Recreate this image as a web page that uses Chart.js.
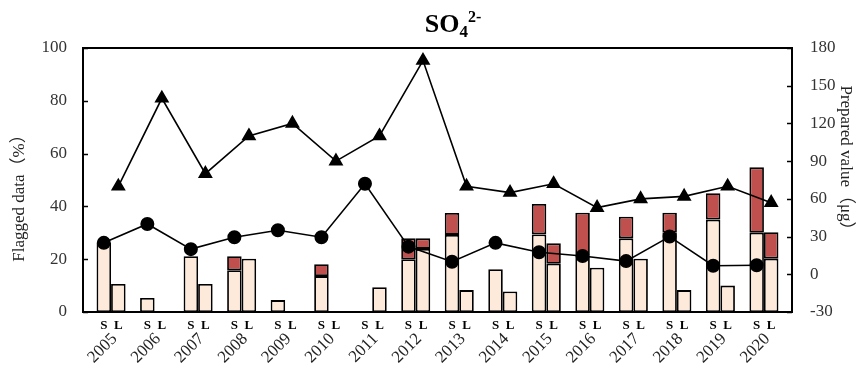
<!DOCTYPE html>
<html>
<head>
<meta charset="utf-8">
<script src="https://cdn.jsdelivr.net/npm/chart.js@4/dist/chart.umd.min.js"></script>
<style>
  html, body { margin: 0; padding: 0; background: #ffffff; }
  #wrap { width: 864px; height: 376px; }
</style>
</head>
<body>
<div id="wrap"><canvas id="c" width="864" height="376"></canvas></div>
<script>
// Sampling years
const years = ['2005','2006','2007','2008','2009','2010','2011','2012',
               '2013','2014','2015','2016','2017','2018','2019','2020'];
const seriesLabels = ['S', 'L'];

// Flagged data (%), split into unflagged base and flagged part
const sBase = [26.2, 5.3, 21.1, 15.8, 4.5, 13.6, 0, 20.0, 29.2, 16.2, 29.4, 21.5, 27.9, 30.0, 35.0, 30.0];
const sFlag = [0, 0, 0, 5.3, 0, 4.5, 0, 7.9, 8.3, 0, 11.5, 16.1, 8.2, 7.6, 10.0, 24.8];
const lBase = [10.6, 0, 10.6, 20.2, 0, 0, 9.4, 23.9, 8.3, 7.8, 18.3, 16.8, 20.2, 8.3, 10.0, 20.2];
const lFlag = [0, 0, 0, 0, 0, 0, 0, 4.0, 0, 0, 7.7, 0, 0, 0, 0, 10.0];

// Prepared value (µg)
const sPrepared = [25, 40, 20, 29.5, 35, 29.5, 72, 22, 10, 25, 17.5, 14.5, 10.5, 30, 6.8, 7.2];
const lPrepared = [70, 140, 80, 110, 120, 90, 110, 170, 70, 65, 72, 53, 60, 62, 70, 57];

// Axis ticks
const pctTicks = [0, 20, 40, 60, 80, 100];
const ugTicks = [-30, 0, 30, 60, 90, 120, 150, 180];

const SERIF = '"Liberation Serif", "Times New Roman", serif';
const LIGHT = 'rgb(253, 234, 218)';
const FLAG = 'rgb(192, 80, 77)';

// Fraction of each year slot taken by the S/L pair; S and L sit a quarter of it off centre
const groupFrac = 0.667;
const pairOffset = groupFrac / 4;
const xPad = 0.645;
// Rotated year labels are anchored slightly right of the pair centre
const yearShift = 0.08;

const xy = (vals, shift) => vals.map((v, i) => ({ x: i + shift, y: v }));

const barStyle = {
  type: 'bar',
  yAxisID: 'y',
  borderColor: '#000',
  // empty segments get no outline
  borderWidth: c => (c.raw && c.raw.y > 0 ? 1.8 : 0),
  borderSkipped: false,
  barPercentage: 1,
  categoryPercentage: groupFrac,
  order: 2
};

const lineStyle = {
  type: 'line',
  yAxisID: 'y2',
  borderColor: '#000',
  backgroundColor: '#000',
  borderWidth: 1.6,
  pointBorderColor: '#000',
  pointBackgroundColor: '#000',
  tension: 0,
  order: 0
};

// Title, axis titles, frame and inward tick marks
const decorations = {
  id: 'decorations',
  afterDraw(chart) {
    const ctx = chart.ctx;
    const a = chart.chartArea;
    ctx.save();

    // frame
    ctx.strokeStyle = '#000';
    ctx.lineWidth = 2;
    ctx.strokeRect(a.left, a.top, a.right - a.left, a.bottom - a.top);

    // inward ticks on both value axes
    ctx.lineWidth = 1.5;
    const yS = chart.scales.y, y2S = chart.scales.y2;
    yS.ticks.forEach(t => {
      const p = Math.round(yS.getPixelForValue(t.value)) + 0.5;
      ctx.beginPath(); ctx.moveTo(a.left, p); ctx.lineTo(a.left + 5, p); ctx.stroke();
    });
    y2S.ticks.forEach(t => {
      const p = Math.round(y2S.getPixelForValue(t.value)) + 0.5;
      ctx.beginPath(); ctx.moveTo(a.right, p); ctx.lineTo(a.right - 5, p); ctx.stroke();
    });

    // chart title: SO4 2-
    ctx.fillStyle = '#000';
    ctx.textBaseline = 'alphabetic';
    ctx.textAlign = 'left';
    const big = 'bold 26px ' + SERIF, sub = 'bold 17px ' + SERIF, sup = 'bold 16px ' + SERIF;
    ctx.font = big; const w1 = ctx.measureText('SO').width;
    ctx.font = sub; const w2 = ctx.measureText('4').width;
    ctx.font = sup; const w3 = ctx.measureText('2-').width;
    let x = 453 - (w1 + w2 + w3) / 2;
    const base = 32;
    ctx.font = big; ctx.fillText('SO', x, base); x += w1;
    ctx.font = sub; ctx.fillText('4', x, base + 5); x += w2;
    ctx.font = sup; ctx.fillText('2-', x, base - 10);

    // axis titles
    ctx.font = '17px ' + SERIF + ', "Noto Sans CJK SC"';
    ctx.fillStyle = '#222';
    ctx.textAlign = 'center';
    ctx.textBaseline = 'middle';
    ctx.save();
    ctx.translate(20, 194);
    ctx.rotate(-Math.PI / 2);
    ctx.fillText('Flagged data（%）', 0, 0);
    ctx.restore();
    ctx.save();
    ctx.translate(845, 162);
    ctx.rotate(Math.PI / 2);
    ctx.fillText('Prepared value（μg）', 0, 0);
    ctx.restore();

    ctx.restore();
  }
};

new Chart(document.getElementById('c'), {
  data: {
    datasets: [
      Object.assign({}, barStyle, { label: 'S', stack: 'S', backgroundColor: LIGHT, data: xy(sBase, 0) }),
      Object.assign({}, barStyle, { label: 'S flagged', stack: 'S', backgroundColor: FLAG, data: xy(sFlag, 0) }),
      Object.assign({}, barStyle, { label: 'L', stack: 'L', backgroundColor: LIGHT, data: xy(lBase, 0) }),
      Object.assign({}, barStyle, { label: 'L flagged', stack: 'L', backgroundColor: FLAG, data: xy(lFlag, 0) }),
      Object.assign({}, lineStyle, { label: 'S prepared', pointStyle: 'circle', pointRadius: 6.2, data: xy(sPrepared, -pairOffset) }),
      Object.assign({}, lineStyle, { label: 'L prepared', pointStyle: 'triangle', pointRadius: 7, data: xy(lPrepared, pairOffset) })
    ]
  },
  options: {
    responsive: false,
    animation: false,
    devicePixelRatio: 1,
    layout: { padding: { top: 48, left: 0, right: 0, bottom: 0 } },
    plugins: { legend: { display: false }, tooltip: { enabled: false }, title: { display: false } },
    scales: {
      x: {
        type: 'linear',
        position: 'bottom',
        weight: 1,
        offset: false,
        stacked: true,
        min: -xPad,
        max: years.length - 1 + xPad,
        afterBuildTicks: s => { s.ticks = years.map((_, i) => ({ value: i + yearShift })); },
        afterFit: s => { s.height = 45; },
        grid: { display: false, drawTicks: false, offset: false },
        border: { display: false },
        ticks: {
          autoSkip: false,
          minRotation: 45,
          maxRotation: 45,
          padding: -2,
          color: '#222',
          font: { family: SERIF, size: 17 },
          callback: v => years[Math.round(v - yearShift)]
        }
      },
      xsl: {
        type: 'linear',
        position: 'bottom',
        weight: 0,
        offset: false,
        min: -xPad,
        max: years.length - 1 + xPad,
        afterBuildTicks: s => {
          const t = [];
          years.forEach((_, i) => { t.push({ value: i - pairOffset }); t.push({ value: i + pairOffset }); });
          s.ticks = t;
        },
        afterFit: s => { s.height = 19; },
        grid: { display: false, drawTicks: false },
        border: { display: false },
        ticks: {
          autoSkip: false,
          maxRotation: 0,
          minRotation: 0,
          padding: 6,
          color: '#000',
          font: { family: SERIF, size: 13, weight: 'bold' },
          callback: (v, i) => seriesLabels[i % 2]
        }
      },
      y: {
        type: 'linear',
        position: 'left',
        stacked: true,
        min: pctTicks[0],
        max: pctTicks[pctTicks.length - 1],
        afterBuildTicks: s => { s.ticks = pctTicks.map(v => ({ value: v })); },
        afterFit: s => { s.width = 83; },
        grid: { display: false, drawTicks: false },
        border: { display: false },
        ticks: { padding: 16, color: '#333', font: { family: SERIF, size: 17 } }
      },
      y2: {
        type: 'linear',
        position: 'right',
        min: ugTicks[0],
        max: ugTicks[ugTicks.length - 1],
        afterBuildTicks: s => { s.ticks = ugTicks.map(v => ({ value: v })); },
        afterFit: s => { s.width = 72; },
        grid: { display: false, drawTicks: false },
        border: { display: false },
        ticks: { padding: 18, color: '#333', font: { family: SERIF, size: 17 } }
      }
    }
  },
  plugins: [decorations]
});
</script>
</body>
</html>
